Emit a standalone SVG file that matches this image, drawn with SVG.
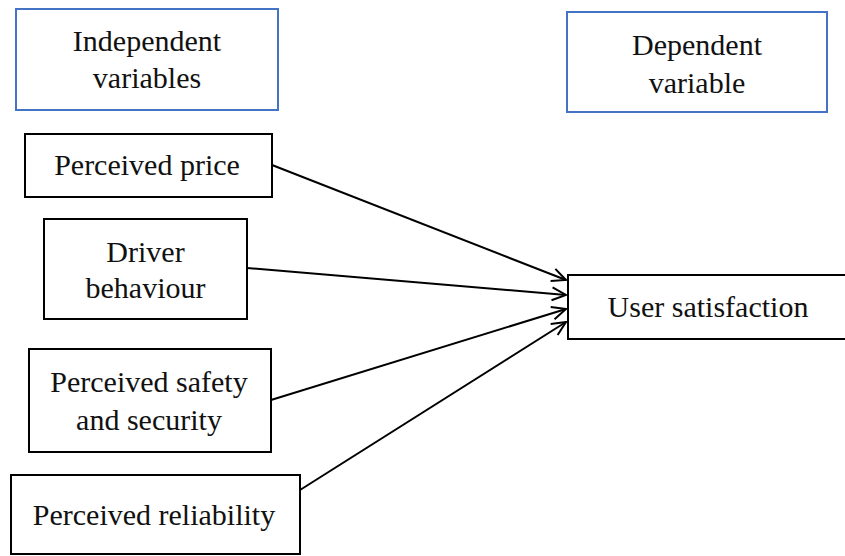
<svg xmlns="http://www.w3.org/2000/svg" width="845" height="556" viewBox="0 0 845 556">
<style>
.box{fill:#fff;stroke:#000;stroke-width:2}
.hdr{fill:#fff;stroke:#4472C4;stroke-width:2}
text{font-family:"Liberation Serif","Times New Roman",serif;font-size:30px;fill:#111;text-anchor:middle}
.con{stroke:#000;stroke-width:2;fill:none;marker-end:url(#arr)}
</style>
<defs>
<marker id="arr" viewBox="0 0 16 16" refX="15" refY="8" markerWidth="16" markerHeight="16" markerUnits="userSpaceOnUse" orient="auto">
<path d="M1,1.5 L15,8 L1,14.5" fill="none" stroke="#000" stroke-width="2"/>
</marker>
</defs>
<rect width="845" height="556" fill="#fff"/>
<g id="independent">
<rect class="hdr" x="16" y="9" width="262" height="101"/>
<text x="147" y="51">Independent</text>
<text x="147" y="88">variables</text>
</g>
<g id="dependent">
<rect class="hdr" x="567" y="12" width="260" height="100"/>
<text x="697" y="55">Dependent</text>
<text x="697" y="93">variable</text>
</g>
<g id="price">
<rect class="box" x="25" y="134" width="247" height="63"/>
<text x="147" y="175">Perceived price</text>
</g>
<g id="driver">
<rect class="box" x="44" y="219" width="203" height="100"/>
<text x="145.5" y="262">Driver</text>
<text x="145.5" y="298">behaviour</text>
</g>
<g id="safety">
<rect class="box" x="29" y="349" width="242" height="103"/>
<text x="149" y="392">Perceived safety</text>
<text x="149" y="430">and security</text>
</g>
<g id="reliability">
<rect class="box" x="11" y="475" width="289" height="79"/>
<text x="154" y="525">Perceived reliability</text>
</g>
<g id="satisfaction">
<rect class="box" x="568" y="275" width="285" height="64"/>
<text x="708" y="317">User satisfaction</text>
</g>
<g id="connectors">
<line class="con" x1="272" y1="165" x2="566" y2="280"/>
<line class="con" x1="247" y1="268" x2="566" y2="295"/>
<line class="con" x1="271" y1="400" x2="566" y2="309"/>
<line class="con" x1="300" y1="490" x2="566" y2="322"/>
</g>
</svg>
